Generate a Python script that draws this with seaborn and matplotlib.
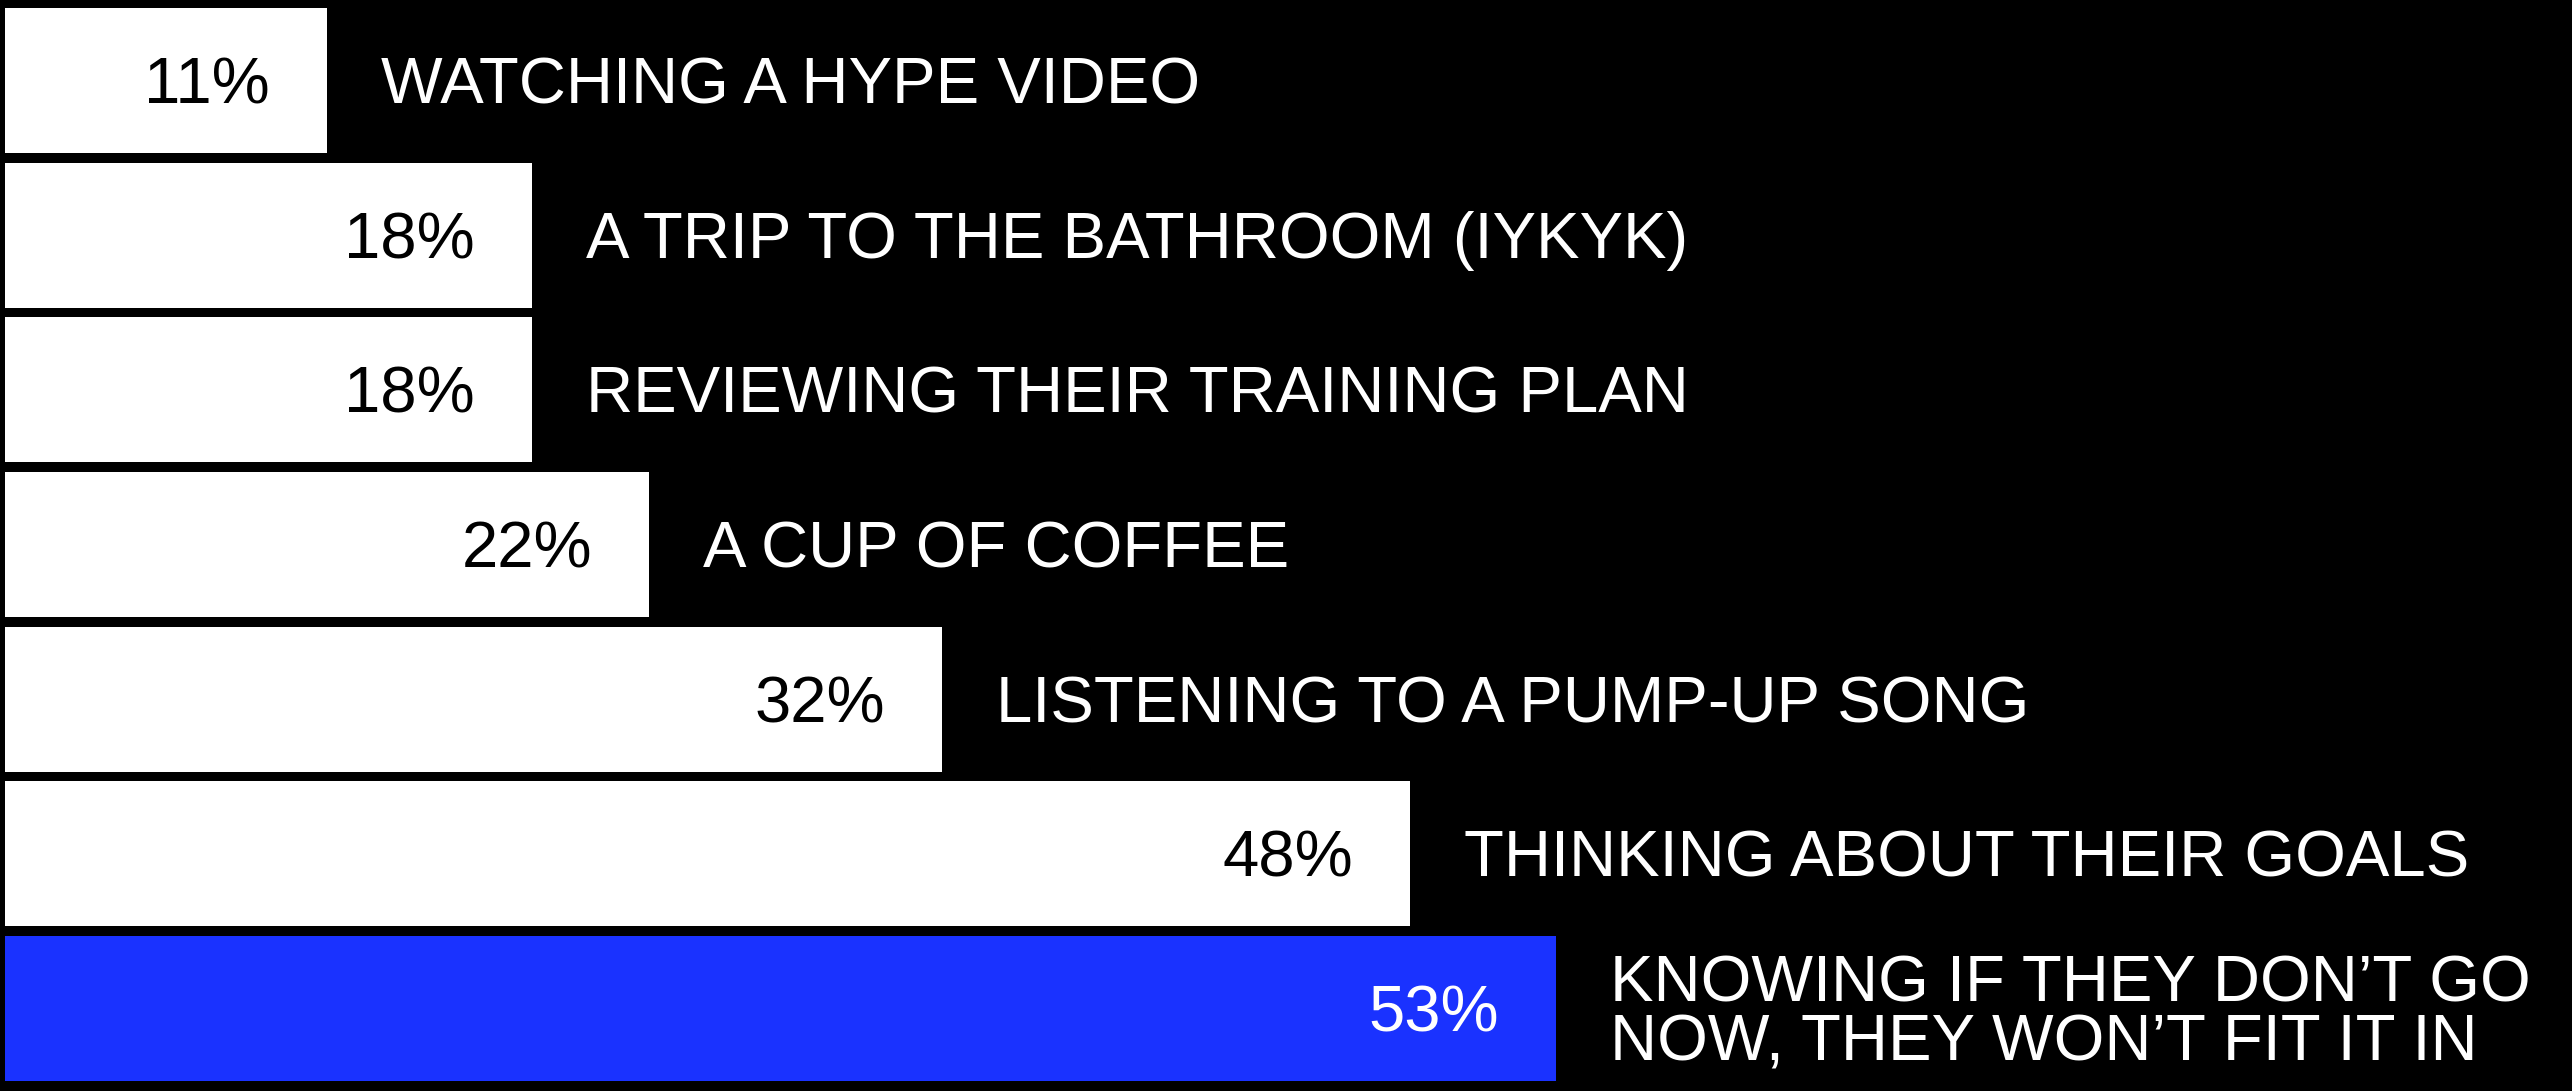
import matplotlib
matplotlib.use("Agg")
import matplotlib.pyplot as plt
import seaborn as sns
import pandas as pd

# Data
categories = [
    "WATCHING A HYPE VIDEO",
    "A TRIP TO THE BATHROOM (IYKYK)",
    "REVIEWING THEIR TRAINING PLAN",
    "A CUP OF COFFEE",
    "LISTENING TO A PUMP-UP SONG",
    "THINKING ABOUT THEIR GOALS",
    "KNOWING IF THEY DON\u2019T GO\nNOW, THEY WON\u2019T FIT IT IN",
]
values = [11, 18, 18, 22, 32, 48, 53]
value_labels = ["11%", "18%", "18%", "22%", "32%", "48%", "53%"]

BLUE = "#1a32ff"
bar_colors = ["white"] * 6 + [BLUE]
text_colors = ["black"] * 6 + ["white"]

df = pd.DataFrame({"category": categories, "value": values})

sns.set_style("dark")
plt.rcParams["font.family"] = ["Liberation Sans", "DejaVu Sans"]

fig = plt.figure(figsize=(25.72, 10.91), dpi=100, facecolor="black")
ax = fig.add_axes([0, 0, 1, 1])
ax.set_facecolor("black")

sns.barplot(data=df, x="value", y="category", hue="category",
            palette=bar_colors, legend=False, width=0.937,
            saturation=1, linewidth=0, ax=ax)

ax.set_xlim(-0.171, 87.7)
ax.set_ylim(6.533, -0.52)
ax.axis("off")

FS = 47
for i, (v, lab, cat) in enumerate(zip(values, value_labels, categories)):
    # baseline of the (last) text line sits below the bar centre
    drop = -37.5 if "\n" in cat else -16.5
    ax.annotate(lab, (v, i), xytext=(-41, -16.5), textcoords="offset points",
                ha="right", va="baseline", color=text_colors[i], fontsize=FS)
    ax.annotate(cat, (v, i), xytext=(39, drop), textcoords="offset points",
                ha="left", va="baseline", color="white", fontsize=FS,
                linespacing=0.98)

fig.savefig("out.png", dpi=100, facecolor="black")
